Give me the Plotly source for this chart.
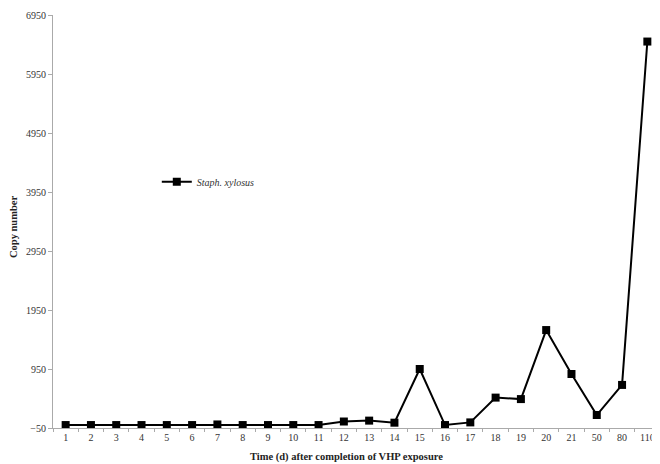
import plotly.graph_objects as go

categories = ["1", "2", "3", "4", "5", "6", "7", "8", "9", "10", "11", "12",
              "13", "14", "15", "16", "17", "18", "19", "20", "21", "50", "80", "110"]
copy_number = [0, 0, 0, 0, 0, 0, 10, 0, 0, 0, 0, 60,
               75, 40, 950, 0, 45, 465, 440, 1610, 865, 170, 680, 6500]
y_ticks = [-50, 950, 1950, 2950, 3950, 4950, 5950, 6950]

fig = go.Figure()
fig.add_trace(go.Scatter(
    x=categories, y=copy_number, mode="lines+markers", name="<i>Staph. xylosus</i>",
    line=dict(color="black", width=2),
    marker=dict(symbol="square", size=8, color="black"),
))

# the page body adds an 8px margin, so the figure is sized to fit the remaining window
fig.update_layout(
    width=652, height=456,
    margin=dict(l=45, r=0, t=7, b=36, autoexpand=False),
    paper_bgcolor="white", plot_bgcolor="white",
    font=dict(family="Liberation Serif", size=10, color="#333"),
    showlegend=True,
    legend=dict(x=0.171, y=0.596, xanchor="left", yanchor="middle",
                bgcolor="rgba(0,0,0,0)", font=dict(size=10, color="#333"),
                itemwidth=30),
    xaxis=dict(
        type="category", range=[-0.5, 23.5], automargin=False,
        showline=True, linecolor="#aaa", linewidth=1,
        ticks="outside", tickson="boundaries", ticklen=3, tickcolor="#aaa",
        showgrid=False, zeroline=False,
    ),
    yaxis=dict(
        range=[-50, 6950], tickvals=y_ticks, automargin=False,
        showline=True, linecolor="#aaa", linewidth=1,
        ticks="outside", ticklen=4, tickcolor="#aaa",
        showgrid=False, zeroline=False,
    ),
    annotations=[
        dict(text="<b>Time (d) after completion of VHP exposure</b>",
             xref="paper", yref="paper", x=0.484, y=-0.070, yanchor="middle",
             showarrow=False, font=dict(size=10.5, color="#222")),
        dict(text="<b>Copy number</b>", textangle=-90,
             xref="paper", yref="paper", x=-0.064, y=0.487, xanchor="center",
             showarrow=False, font=dict(size=10.5, color="#222")),
    ],
)

fig.write_html("out.html")
